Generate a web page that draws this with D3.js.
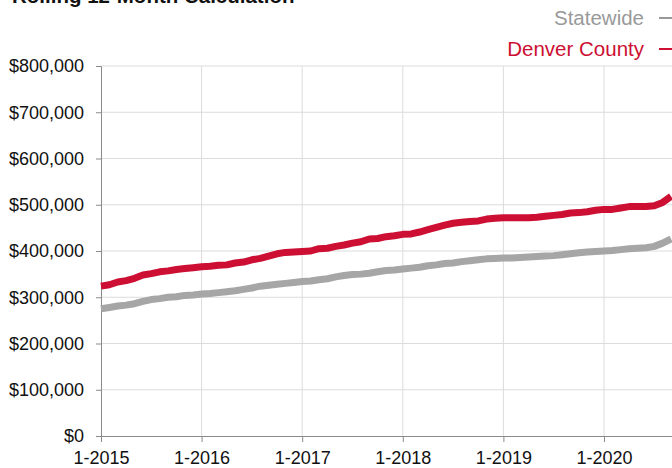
<!DOCTYPE html>
<html>
<head>
<meta charset="utf-8">
<script src="https://cdn.jsdelivr.net/npm/d3@7"></script>
<style>
  body { margin: 0; background: #fff; }
  svg { display: block; font-family: "Helvetica Neue", Arial, "Liberation Sans", sans-serif; }
</style>
</head>
<body>
<svg width="672" height="468"></svg>
<script>
// monthly rolling 12-month values, Jan 2015 .. Sep 2020
var startYear = 2015
var denver = [
  324000, 327000, 333000, 336000, 341000, 348000, 351000, 355000, 357000, 360000, 362000, 364000,
  366000, 367000, 369000, 370000, 374000, 376000, 381000, 384000, 389000, 394000, 397000, 398000,
  399000, 400000, 405000, 406000, 410000, 413000, 417000, 420000, 426000, 427000, 431000, 433000,
  436000, 437000, 441000, 446000, 451000, 456000, 460000, 462000, 464000, 465000, 469000, 471000,
  472000, 472000, 472000, 472000, 473000, 475000, 477000, 479000, 482000, 483000, 485000, 488000,
  490000, 490000, 493000, 496000, 496000, 496000, 498000, 505000, 518000
]
var statewide = [
  275000, 278000, 281000, 283000, 286000, 291000, 295000, 297000, 300000, 301000, 304000, 305000,
  307000, 308000, 310000, 312000, 314000, 317000, 320000, 324000, 326000, 328000, 330000, 332000,
  334000, 335000, 338000, 340000, 344000, 347000, 349000, 350000, 352000, 355000, 358000, 359000,
  361000, 363000, 365000, 368000, 370000, 373000, 374000, 377000, 379000, 381000, 383000, 384000,
  385000, 385000, 386000, 387000, 388000, 389000, 390000, 392000, 394000, 396000, 398000, 399000,
  400000, 401000, 403000, 405000, 406000, 407000, 410000, 417000, 426000
]
var xTickLabels = ['1-2015', '1-2016', '1-2017', '1-2018', '1-2019', '1-2020']
var yTicks = [0, 100000, 200000, 300000, 400000, 500000, 600000, 700000, 800000]
var seriesNames = ['Statewide', 'Denver County']

var svg = d3.select('svg')
var plotLeft = 101, plotTop = 66, plotBottom = 436, plotRight = 672
var x = d3.scaleLinear().domain([0, 60]).range([101, 604])
var y = d3.scaleLinear().domain([0, 800000]).range([plotBottom, plotTop])
var fmt = d3.format('$,')

// title, mostly cut off at top
svg.append('text')
  .attr('x', 12).attr('y', 3)
  .attr('font-size', 20.5).attr('font-weight', 'bold')
  .attr('fill', '#111')
  .text('Rolling 12-Month Calculation')

// grid
svg.append('g').selectAll('line')
  .data(yTicks.slice(1))
  .join('line')
  .attr('x1', plotLeft).attr('x2', plotRight)
  .attr('y1', function(d){return y(d)}).attr('y2', function(d){return y(d)})
  .attr('stroke', '#dcdcdc').attr('stroke-width', 1)
svg.append('g').selectAll('line')
  .data(xTickLabels.slice(1))
  .join('line')
  .attr('x1', function(d,i){return x((i+1)*12)}).attr('x2', function(d,i){return x((i+1)*12)})
  .attr('y1', plotTop).attr('y2', plotBottom)
  .attr('stroke', '#dcdcdc').attr('stroke-width', 1)

// y axis
var yAxis = svg.append('g')
  .attr('transform', 'translate(' + plotLeft + ',0)')
  .call(d3.axisLeft(y).tickValues(yTicks).tickFormat(fmt).tickSize(5).tickPadding(12))
yAxis.select('.domain').attr('stroke', '#8a8a8a')
yAxis.selectAll('.tick line').attr('stroke', '#8a8a8a')
yAxis.selectAll('text').attr('font-size', 18).attr('fill', '#111')
  .attr('font-family', '"Helvetica Neue", Arial, "Liberation Sans", sans-serif')

// x axis
var xAxis = svg.append('g')
  .attr('transform', 'translate(0,' + plotBottom + ')')
  .call(d3.axisBottom(x).tickValues([0, 12, 24, 36, 48, 60])
    .tickFormat(function(d,i){return xTickLabels[i]}).tickSize(6).tickPadding(9).tickSizeOuter(0))
xAxis.select('.domain').attr('stroke', '#8a8a8a').attr('d', 'M' + plotLeft + ',0.5H' + plotRight)
xAxis.selectAll('.tick line').attr('stroke', '#8a8a8a')
xAxis.selectAll('text').attr('font-size', 18).attr('fill', '#111')
  .attr('font-family', '"Helvetica Neue", Arial, "Liberation Sans", sans-serif')

// lines
var line = d3.line()
  .x(function(d,i){return x(i)})
  .y(function(d){return y(d)})
svg.append('path').datum(statewide)
  .attr('d', line).attr('fill', 'none')
  .attr('stroke', '#a6a6a6').attr('stroke-width', 7).attr('stroke-linejoin', 'round')
svg.append('path').datum(denver)
  .attr('d', line).attr('fill', 'none')
  .attr('stroke', '#cc0f33').attr('stroke-width', 7).attr('stroke-linejoin', 'round')

// legend
var legColors = ['#999999', '#cc0f33']
var legY = [18, 49]
seriesNames.forEach(function(name, i) {
  svg.append('text')
    .attr('x', 644).attr('y', legY[i] + 7)
    .attr('text-anchor', 'end')
    .attr('font-size', 20.5)
    .attr('fill', legColors[i])
    .text(name)
  svg.append('line')
    .attr('x1', 659).attr('x2', 672)
    .attr('y1', legY[i]).attr('y2', legY[i])
    .attr('stroke', legColors[i]).attr('stroke-width', 2)
})
</script>
</body>
</html>
